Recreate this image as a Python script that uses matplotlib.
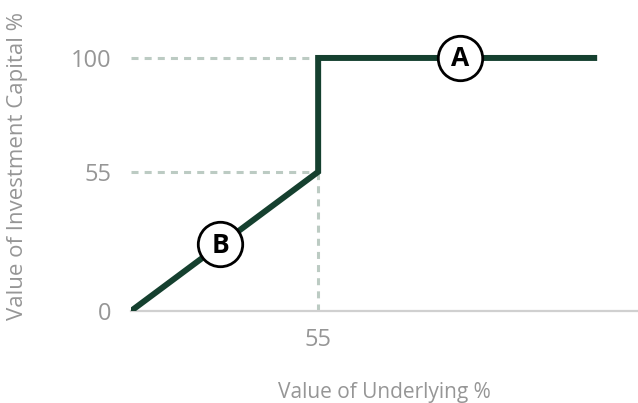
import matplotlib
matplotlib.use("Agg")
import matplotlib.pyplot as plt

# payoff profile
underlying = [0, 55, 55, 137]
capital = [0, 55, 100, 100]

xticks = [55]
yticks = [0, 55, 100]

# circled scenario markers
marker_names = ["A", "B"]
marker_x = [96.6, 26.3]
marker_y = [100, 26.3]

line_color = "#15402f"
grid_color = "#bccbc3"
text_color = "#969696"

plt.rcParams["font.family"] = ["Open Sans", "DejaVu Sans"]

fig = plt.figure(figsize=(6.38, 4.03), dpi=100)
ax = fig.add_axes([131 / 638, 92 / 403, 507 / 638, 291 / 403])
ax.set_xlim(0, 149)
ax.set_ylim(0, 115)

# dashed guides
dash = dict(color=grid_color, lw=2.2, ls=(0, (2.3, 2.0)), zorder=1)
for y in yticks[1:]:
    ax.plot([0, 55], [y, y], **dash)
ax.plot([55, 55], [0, 55], **dash)

ax.plot(underlying, capital, color=line_color, lw=4.3, solid_joinstyle="miter",
        solid_capstyle="butt", zorder=3)

for name, x, y in zip(marker_names, marker_x, marker_y):
    ax.plot(x, y, marker="o", ms=32, mfc="white", mec="black", mew=2, zorder=4)
    ax.text(x, y - 0.3, name, ha="center", va="center", fontsize=19,
            fontweight="bold", color="black", zorder=5)

for s in ["top", "right", "left"]:
    ax.spines[s].set_visible(False)
ax.spines["bottom"].set_color("#d0d0d0")
ax.spines["bottom"].set_linewidth(1.6)

ax.set_xticks(xticks)
ax.set_yticks(yticks)
ax.tick_params(length=0, labelsize=17, labelcolor=text_color)
ax.tick_params(axis="x", pad=12)
ax.tick_params(axis="y", pad=14)

ax.set_xlabel("Value of Underlying %", fontsize=15, color=text_color, labelpad=22)
ax.set_ylabel("Value of Investment Capital %", fontsize=16, color=text_color)
ax.yaxis.set_label_coords(-0.203, 0.5)

fig.savefig("out.png", dpi=100)
